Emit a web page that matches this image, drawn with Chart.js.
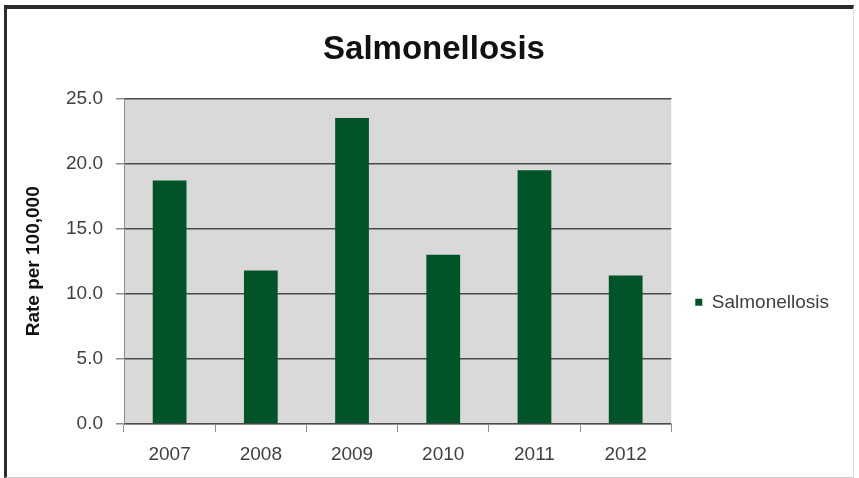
<!DOCTYPE html>
<html>
<head>
<meta charset="utf-8">
<script src="https://cdn.jsdelivr.net/npm/chart.js@4/dist/chart.umd.min.js"></script>
<style>
  html, body { margin: 0; padding: 0; background: #fff; }
  #wrap { position: relative; width: 859px; height: 478px; }
  #frame { position: absolute; left: 4px; top: 5px; width: 846px; height: 468px;
    border-top: 4px solid #2b2b2b; border-left: 3px solid #2b2b2b;
    border-right: 1px solid #dcdcdc; border-bottom: 1px solid #cfcfcf; pointer-events: none; }
  canvas { position: absolute; left: 0; top: 0; }
</style>
</head>
<body>
<div id="wrap">
  <canvas id="c" width="859" height="478"></canvas>
  <div id="frame"></div>
</div>
<script>
const chartTitle = "Salmonellosis";
const seriesName = "Salmonellosis";
const yAxisTitle = "Rate per 100,000";
const years = ["2007", "2008", "2009", "2010", "2011", "2012"];
const rates = [18.7, 11.8, 23.5, 13.0, 19.5, 11.4];
const yTicks = [0, 5, 10, 15, 20, 25];

const FONT = "'Liberation Sans', Arial, sans-serif";
const TEXT = "#404040";

const plotBg = {
  id: 'plotBg',
  beforeDraw(chart) {
    const a = chart.chartArea, ctx = chart.ctx;
    ctx.save();
    ctx.fillStyle = '#d9d9d9';
    ctx.fillRect(a.left, a.top, a.right - a.left, a.bottom - a.top);
    ctx.restore();
  }
};
const boxShift = {
  id: 'boxShift',
  afterLayout(chart) {
    const lg = chart.legend;
    if (lg) { lg.top += 41; lg.bottom += 41; lg.left -= 3; lg.right -= 3; }
    const tb = chart.titleBlock;
    if (tb) { tb.left += 8; tb.right += 8; }
  }
};

new Chart(document.getElementById('c'), {
  type: 'bar',
  data: {
    labels: years,
    datasets: [{
      label: seriesName,
      data: rates,
      backgroundColor: '#005427',
      borderWidth: 0,
      barPercentage: 0.37,
      categoryPercentage: 1.0
    }]
  },
  options: {
    responsive: false,
    animation: false,
    layout: { padding: { left: 10, right: 17, top: 0, bottom: 0 } },
    plugins: {
      title: {
        display: true, text: chartTitle, color: '#111',
        font: { family: FONT, size: 33, weight: 'bold' },
        padding: { top: 30, bottom: 29 }
      },
      legend: {
        display: true, position: 'right', fullSize: false,
        labels: {
          color: TEXT, boxWidth: 7, boxHeight: 7, padding: 27,
          font: { family: FONT, size: 19 }
        }
      },
      tooltip: { enabled: false }
    },
    scales: {
      x: {
        offset: true,
        grid: { display: true, drawOnChartArea: false, drawTicks: true, tickLength: 8, color: '#8c8c8c', offset: true },
        border: { color: '#8c8c8c', width: 1 },
        ticks: { color: TEXT, padding: 11, font: { family: FONT, size: 19 } },
        afterFit(scale) { scale.height = 54; }
      },
      y: {
        min: 0, max: 25,
        afterBuildTicks(scale) { scale.ticks = yTicks.map(v => ({ value: v })); },
        grid: { color: '#4a4a4a', lineWidth: 1.5, tickLength: 8, tickColor: '#8c8c8c' },
        border: { color: '#8c8c8c', width: 1 },
        ticks: { color: TEXT, padding: 13, font: { family: FONT, size: 19 },
          callback: v => Number(v).toFixed(1) },
        title: { display: true, text: yAxisTitle, color: '#111',
          font: { family: FONT, size: 19, weight: 'bold' }, padding: { top: 12, bottom: 0 } },
        afterFit(scale) { scale.width = 114; }
      }
    }
  },
  plugins: [plotBg, boxShift]
});
</script>
</body>
</html>
